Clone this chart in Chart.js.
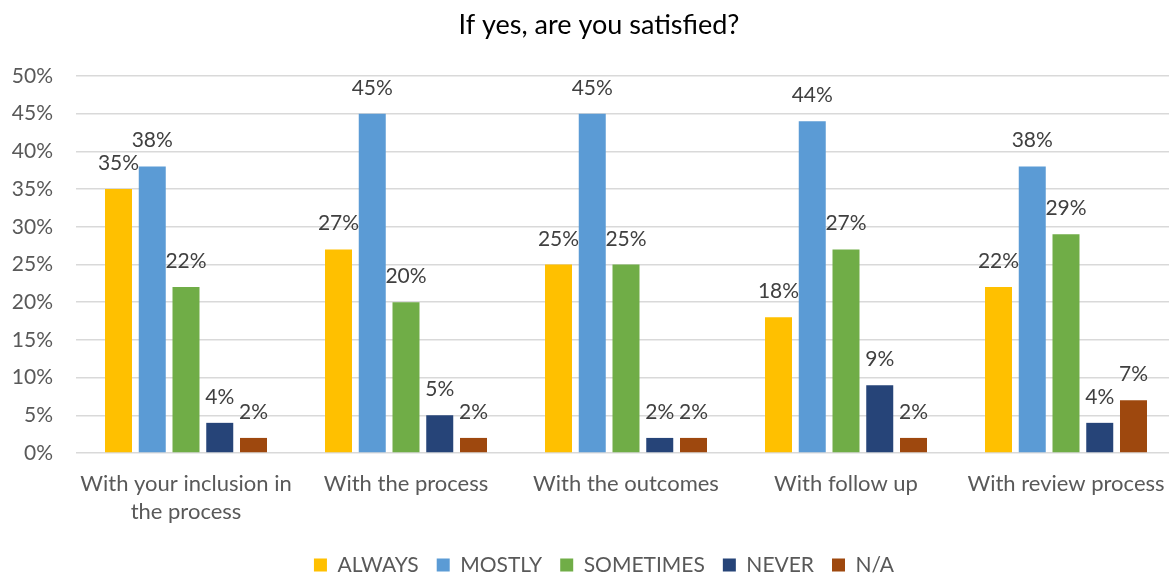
<!DOCTYPE html>
<html><head><meta charset="utf-8">
<script src="https://cdn.jsdelivr.net/npm/chart.js@4"></script>
<style>html,body{margin:0;padding:0;overflow:hidden;background:#fff}#wrap{width:1198px;height:576px}</style>
</head><body><div id="wrap"><canvas id="c" width="1198" height="576"></canvas></div>
<script>
const categories = [['With your inclusion in','the process'], 'With the process', 'With the outcomes', 'With follow up', 'With review process'];
const always    = [35, 27, 25, 18, 22];
const mostly    = [38, 45, 45, 44, 38];
const sometimes = [22, 20, 25, 27, 29];
const never     = [4, 5, 2, 9, 4];
const na        = [2, 2, 2, 2, 7];
const seriesNames = ['ALWAYS','MOSTLY','SOMETIMES','NEVER','N/A'];
const colors = ['#FFC000','#5B9BD5','#70AD47','#264478','#9E480E'];
const yTicks = [0,5,10,15,20,25,30,35,40,45,50];

const FONT = 'Lato, "Open Sans", sans-serif';
const PLOT_BOTTOM = 453;
const labelPlugin = {
  id:'valLabels',
  afterLayout(chart){
    const L = chart.legend;
    if (L) { const h = L.height; L.top = 567 - 12.6 - L.options.labels.padding; L.bottom = L.top + h; L.left += 16; L.right += 16; }
    const T = chart.titleBlock;
    if (T) { T.left += 11; T.right += 11; }
  },
  afterDatasetsDraw(chart){
    const ctx = chart.ctx;
    ctx.save();
    ctx.font = '21px ' + FONT;
    ctx.fillStyle = '#404040';
    ctx.textAlign = 'center';
    ctx.textBaseline = 'alphabetic';
    chart.data.datasets.forEach((ds,i)=>{
      const meta = chart.getDatasetMeta(i);
      meta.data.forEach((bar,j)=>{
        ctx.fillText(ds.data[j] + '%', bar.x, bar.y - 19);
      });
    });
    ctx.restore();
  }
};

const allData = [always, mostly, sometimes, never, na];
new Chart(document.getElementById('c'), {
  type:'bar',
  data:{
    labels: categories,
    datasets: seriesNames.map((n,i)=>({label:n, data:allData[i], backgroundColor:colors[i], borderWidth:0,
      categoryPercentage:0.767, barPercentage:0.8}))
  },
  options:{
    responsive:false, animation:false, devicePixelRatio:1,
    layout:{padding:{left:0,right:22,top:0,bottom:0}},
    plugins:{
      title:{display:true, text:'If yes, are you satisfied?', color:'#000', font:{family:FONT,size:27,weight:'normal'}, padding:{top:9,bottom:34.6}},
      legend:{position:'bottom', labels:{color:'#595959', font:{family:FONT,size:21}, boxWidth:13, boxHeight:13, padding:18}},
      tooltip:{enabled:false}
    },
    scales:{
      x:{grid:{display:false, drawTicks:false}, border:{display:false},
         afterFit(s){ s.height = 576 - PLOT_BOTTOM - (s.chart.legend ? s.chart.legend.height : 0); },
         ticks:{color:'#595959', font:{family:FONT,size:22,lineHeight:1.27}, padding:17, maxRotation:0, autoSkip:false}},
      y:{min:0,max:50, grid:{color:'#D9D9D9', lineWidth:1.5, drawTicks:false}, border:{display:false},
         afterFit(s){ s.width = 76; },
         afterBuildTicks(s){ s.ticks = yTicks.map(v=>({value:v})); },
         ticks:{color:'#595959', font:{family:FONT,size:21}, padding:23, callback:v=>v+'%'}}
    }
  },
  plugins:[labelPlugin]
});
</script></body></html>
